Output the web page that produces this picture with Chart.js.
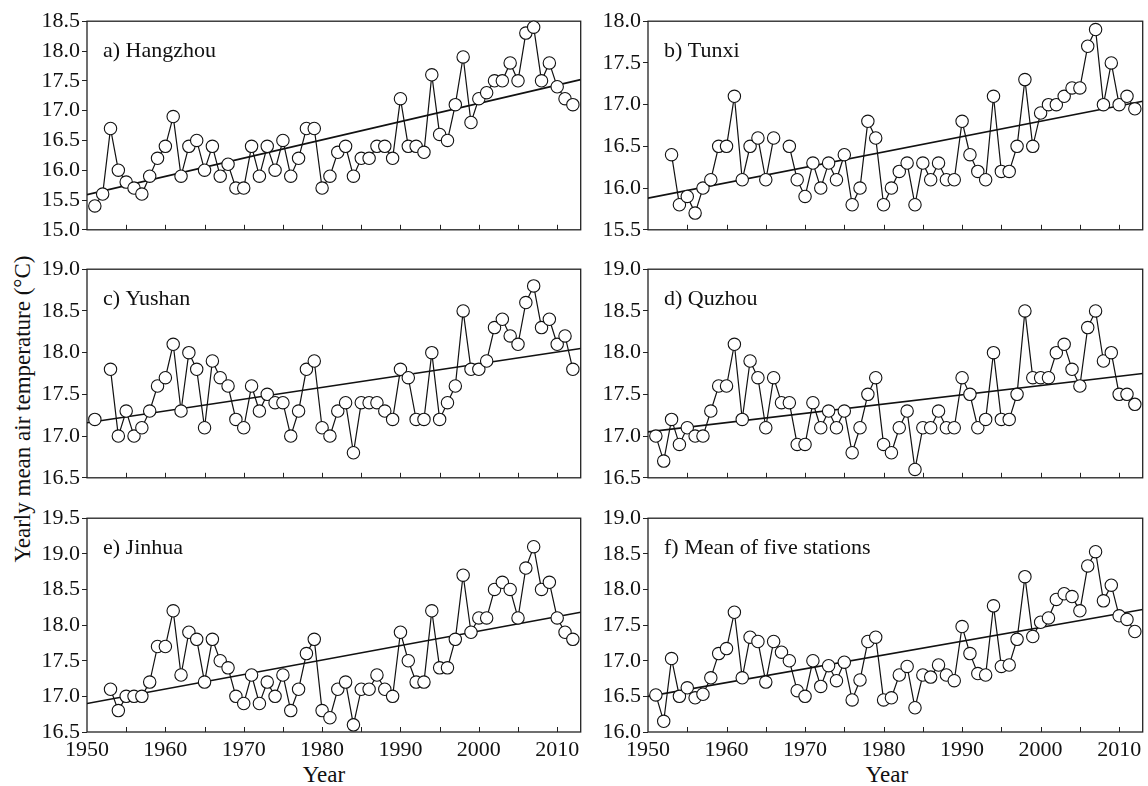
<!DOCTYPE html>
<html>
<head>
<meta charset="utf-8">
<script src="https://cdn.jsdelivr.net/npm/chart.js@4/dist/chart.umd.min.js"></script>
<style>
  html, body { margin: 0; padding: 0; background: #fff; }
  #wrap { position: relative; width: 1148px; height: 786px; background: #fff; overflow: hidden;
          font-family: "Liberation Serif", "DejaVu Serif", serif; color: #111; }
  #wrap canvas { position: absolute; }
  .xtitle { position: absolute; top: 763px; font-size: 23px; line-height: 23px; transform: translateX(-50%); white-space: nowrap; }
  .ytitle { position: absolute; left: 23px; top: 409px; font-size: 23px; white-space: nowrap;
            transform: translate(-50%, -50%) rotate(-90deg); }
</style>
</head>
<body>
<div id="wrap">
  <div class="ytitle">Yearly mean air temperature (°C)</div>
  <div class="xtitle" style="left:324px">Year</div>
  <div class="xtitle" style="left:887px">Year</div>
</div>
<script>
// years on the x axis
const years = [1951, 1952, 1953, 1954, 1955, 1956, 1957, 1958, 1959, 1960,
               1961, 1962, 1963, 1964, 1965, 1966, 1967, 1968, 1969, 1970,
               1971, 1972, 1973, 1974, 1975, 1976, 1977, 1978, 1979, 1980,
               1981, 1982, 1983, 1984, 1985, 1986, 1987, 1988, 1989, 1990,
               1991, 1992, 1993, 1994, 1995, 1996, 1997, 1998, 1999, 2000,
               2001, 2002, 2003, 2004, 2005, 2006, 2007, 2008, 2009, 2010,
               2011, 2012];
const yearTicks = [1950, 1960, 1970, 1980, 1990, 2000, 2010];

// yearly mean temperature, one array per station (null = no record)
const hangzhou = [15.4, 15.6, 16.7, 16.0, 15.8, 15.7, 15.6, 15.9, 16.2, 16.4,
                  16.9, 15.9, 16.4, 16.5, 16.0, 16.4, 15.9, 16.1, 15.7, 15.7,
                  16.4, 15.9, 16.4, 16.0, 16.5, 15.9, 16.2, 16.7, 16.7, 15.7,
                  15.9, 16.3, 16.4, 15.9, 16.2, 16.2, 16.4, 16.4, 16.2, 17.2,
                  16.4, 16.4, 16.3, 17.6, 16.6, 16.5, 17.1, 17.9, 16.8, 17.2,
                  17.3, 17.5, 17.5, 17.8, 17.5, 18.3, 18.4, 17.5, 17.8, 17.4,
                  17.2, 17.1];
const tunxi    = [null, null, 16.4, 15.8, 15.9, 15.7, 16.0, 16.1, 16.5, 16.5,
                  17.1, 16.1, 16.5, 16.6, 16.1, 16.6, null, 16.5, 16.1, 15.9,
                  16.3, 16.0, 16.3, 16.1, 16.4, 15.8, 16.0, 16.8, 16.6, 15.8,
                  16.0, 16.2, 16.3, 15.8, 16.3, 16.1, 16.3, 16.1, 16.1, 16.8,
                  16.4, 16.2, 16.1, 17.1, 16.2, 16.2, 16.5, 17.3, 16.5, 16.9,
                  17.0, 17.0, 17.1, 17.2, 17.2, 17.7, 17.9, 17.0, 17.5, 17.0,
                  17.1, 16.95];
const yushan   = [17.2, null, 17.8, 17.0, 17.3, 17.0, 17.1, 17.3, 17.6, 17.7,
                  18.1, 17.3, 18.0, 17.8, 17.1, 17.9, 17.7, 17.6, 17.2, 17.1,
                  17.6, 17.3, 17.5, 17.4, 17.4, 17.0, 17.3, 17.8, 17.9, 17.1,
                  17.0, 17.3, 17.4, 16.8, 17.4, 17.4, 17.4, 17.3, 17.2, 17.8,
                  17.7, 17.2, 17.2, 18.0, 17.2, 17.4, 17.6, 18.5, 17.8, 17.8,
                  17.9, 18.3, 18.4, 18.2, 18.1, 18.6, 18.8, 18.3, 18.4, 18.1,
                  18.2, 17.8];
const quzhou   = [17.0, 16.7, 17.2, 16.9, 17.1, 17.0, 17.0, 17.3, 17.6, 17.6,
                  18.1, 17.2, 17.9, 17.7, 17.1, 17.7, 17.4, 17.4, 16.9, 16.9,
                  17.4, 17.1, 17.3, 17.1, 17.3, 16.8, 17.1, 17.5, 17.7, 16.9,
                  16.8, 17.1, 17.3, 16.6, 17.1, 17.1, 17.3, 17.1, 17.1, 17.7,
                  17.5, 17.1, 17.2, 18.0, 17.2, 17.2, 17.5, 18.5, 17.7, 17.7,
                  17.7, 18.0, 18.1, 17.8, 17.6, 18.3, 18.5, 17.9, 18.0, 17.5,
                  17.5, 17.38];
const jinhua   = [null, null, 17.1, 16.8, 17.0, 17.0, 17.0, 17.2, 17.7, 17.7,
                  18.2, 17.3, 17.9, 17.8, 17.2, 17.8, 17.5, 17.4, 17.0, 16.9,
                  17.3, 16.9, 17.2, 17.0, 17.3, 16.8, 17.1, 17.6, 17.8, 16.8,
                  16.7, 17.1, 17.2, 16.6, 17.1, 17.1, 17.3, 17.1, 17.0, 17.9,
                  17.5, 17.2, 17.2, 18.2, 17.4, 17.4, 17.8, 18.7, 17.9, 18.1,
                  18.1, 18.5, 18.6, 18.5, 18.1, 18.8, 19.1, 18.5, 18.6, 18.1,
                  17.9, 17.8];
const fiveMean = [16.52, 16.15, 17.03, 16.50, 16.62, 16.48, 16.53, 16.76, 17.10, 17.17,
                  17.68, 16.76, 17.33, 17.27, 16.70, 17.27, 17.12, 17.00, 16.58, 16.50,
                  17.00, 16.64, 16.93, 16.72, 16.98, 16.45, 16.73, 17.27, 17.33, 16.45,
                  16.48, 16.80, 16.92, 16.34, 16.80, 16.77, 16.94, 16.80, 16.72, 17.48,
                  17.10, 16.82, 16.80, 17.77, 16.92, 16.94, 17.30, 18.18, 17.34, 17.54,
                  17.60, 17.86, 17.94, 17.90, 17.70, 18.33, 18.53, 17.84, 18.06, 17.63,
                  17.58, 17.41];

const panelNames = ['a) Hangzhou', 'b) Tunxi', 'c) Yushan', 'd) Quzhou', 'e) Jinhua', 'f) Mean of five stations'];
const series     = [hangzhou, tunxi, yushan, quzhou, jinhua, fiveMean];

// linear trend: value at the start and end year
const trendYears = [1950, 2013];
const trendStart = [15.59, 15.88, 17.16, 17.05, 16.90, 16.50];
const trendEnd   = [17.52, 17.04, 18.05, 17.75, 18.18, 17.72];

// y axis range per panel
const yMin = [15.0, 15.5, 16.5, 16.5, 16.5, 16.0];
const yMax = [18.5, 18.0, 19.0, 19.0, 19.5, 19.0];

// plot area placement
const colLeft = [87, 648];
const colWidth = [498, 499];
const rowTop = [20, 268, 517];
const plotH = 215;
const AXW = 80, PADT = 14;

const fontFamily = '"Liberation Serif", "DejaVu Serif", serif';
const ink = '#111';

const framePlugin = {
    id: 'frame',
    beforeDatasetsDraw(chart) {
        const { ctx, chartArea: a, scales } = chart;
        ctx.save();
        ctx.strokeStyle = '#222';
        ctx.lineWidth = 1.3;
        ctx.strokeRect(a.left, a.top, a.right - a.left, a.bottom - a.top);
        // inward ticks on the year axis, every 5 years
        ctx.lineWidth = 1;
        for (let yr = 1955; yr <= 2010; yr += 5) {
            const x = Math.round(scales.x.getPixelForValue(yr)) + 0.5;
            ctx.beginPath();
            ctx.moveTo(x, a.bottom);
            ctx.lineTo(x, a.bottom - 5);
            ctx.stroke();
        }
        ctx.restore();
    },
    afterDraw(chart) {
        const { ctx, chartArea: a } = chart;
        ctx.save();
        ctx.fillStyle = ink;
        ctx.font = '22px ' + fontFamily;
        ctx.textBaseline = 'middle';
        ctx.fillText(chart.options.plugins.frame.label, a.left + 16, a.top + 30);
        ctx.restore();
    }
};

const wrap = document.getElementById('wrap');

series.forEach((vals, i) => {
    const col = i % 2, row = Math.floor(i / 2);
    const bottom = row === 2;
    const xh = bottom ? 40 : 10;
    const cv = document.createElement('canvas');
    const w = AXW + colWidth[col] + 3;
    const h = PADT + plotH + xh;
    cv.width = w; cv.height = h;
    cv.style.left = (colLeft[col] - AXW) + 'px';
    cv.style.top = (rowTop[row] - PADT) + 'px';
    cv.style.width = w + 'px'; cv.style.height = h + 'px';
    wrap.appendChild(cv);

    new Chart(cv, {
        type: 'line',
        data: {
            datasets: [{
                data: years.map((yr, k) => ({ x: yr, y: vals[k] })),
                borderColor: '#111',
                borderWidth: 1.2,
                pointRadius: 6.2,
                pointBackgroundColor: '#fff',
                pointBorderColor: '#111',
                pointBorderWidth: 1.1,
                spanGaps: false,
                tension: 0,
                clip: false,
                order: 1
            }, {
                data: trendYears.map((yr, k) => ({ x: yr, y: k === 0 ? trendStart[i] : trendEnd[i] })),
                borderColor: '#111',
                borderWidth: 1.6,
                pointRadius: 0,
                tension: 0,
                order: 2
            }]
        },
        options: {
            responsive: false,
            animation: false,
            layout: { padding: { top: PADT, right: 3, left: 0, bottom: 0 } },
            scales: {
                x: {
                    type: 'linear',
                    min: 1950,
                    max: 2013,
                    border: { display: false },
                    grid: { display: false, drawTicks: false },
                    afterBuildTicks: s => { s.ticks = yearTicks.map(v => ({ value: v })); },
                    ticks: {
                        display: bottom,
                        padding: 5,
                        color: ink,
                        maxRotation: 0,
                        autoSkip: false,
                        font: { family: fontFamily, size: 22 },
                        callback: v => String(v)
                    },
                    afterFit: s => { s.height = xh; }
                },
                y: {
                    min: yMin[i],
                    max: yMax[i],
                    border: { display: false },
                    grid: { drawOnChartArea: false, tickLength: 5, color: '#222', lineWidth: 1 },
                    ticks: {
                        stepSize: 0.5,
                        padding: 2,
                        color: ink,
                        font: { family: fontFamily, size: 22 },
                        callback: v => Number(v).toFixed(1)
                    },
                    afterFit: s => { s.width = AXW; }
                }
            },
            plugins: {
                legend: { display: false },
                tooltip: { enabled: false },
                frame: { label: panelNames[i] }
            }
        },
        plugins: [framePlugin]
    });
});
</script>
</body>
</html>
